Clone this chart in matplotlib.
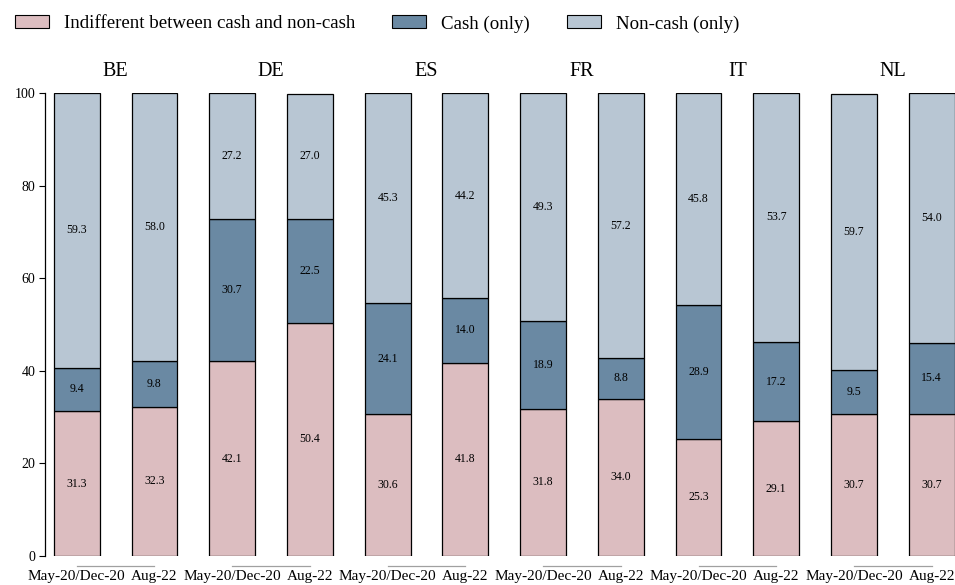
import numpy as np
import matplotlib.pyplot as plt
from matplotlib.patches import Patch

plt.rcParams['font.family'] = ['Liberation Serif', 'DejaVu Serif']

countries = ['BE', 'DE', 'ES', 'FR', 'IT', 'NL']
periods = ['May-20/Dec-20', 'Aug-22']
indifferent = [31.3, 32.3, 42.1, 50.4, 30.6, 41.8, 31.8, 34.0, 25.3, 29.1, 30.7, 30.7]
cash = [9.4, 9.8, 30.7, 22.5, 24.1, 14.0, 18.9, 8.8, 28.9, 17.2, 9.5, 15.4]
noncash = [59.3, 58.0, 27.2, 27.0, 45.3, 44.2, 49.3, 57.2, 45.8, 53.7, 59.7, 54.0]

c_ind = '#dcbdc0'
c_cash = '#6a89a3'
c_non = '#b8c6d3'

fig = plt.figure(figsize=(9.55, 5.85), dpi=100)
ax = fig.add_axes([0.047, 0.0496, 0.953, 0.791])

x = np.arange(len(indifferent))
w = 0.59
ind = np.array(indifferent)
ca = np.array(cash)
nc = np.array(noncash)

ax.bar(x, ind, w, color=c_ind, edgecolor='black', linewidth=0.9)
ax.bar(x, ca, w, bottom=ind, color=c_cash, edgecolor='black', linewidth=0.9)
ax.bar(x, nc, w, bottom=ind + ca, color=c_non, edgecolor='black', linewidth=0.9)

for i in x:
    ax.text(i, ind[i] / 2, '%.1f' % ind[i], ha='center', va='center', fontsize=8.5)
    ax.text(i, ind[i] + ca[i] / 2, '%.1f' % ca[i], ha='center', va='center', fontsize=8.5)
    ax.text(i, ind[i] + ca[i] + nc[i] / 2, '%.1f' % nc[i], ha='center', va='center', fontsize=8.5)

# country names above each pair, grey bracket lines below
for g, c in enumerate(countries):
    ax.text(2 * g + 0.5, 104.6, c, ha='center', va='center', fontsize=14.5)
    ax.plot([2 * g, 2 * g + 1], [-2.2, -2.2], color='#a0a0a0', lw=0.9, clip_on=False)

ax.set_xlim(-0.41, 11.3)
ax.set_ylim(0, 100)
ax.set_xticks(x)
ax.set_xticklabels(periods * len(countries), fontsize=11)
ax.tick_params(axis='x', length=0, pad=10)
ax.set_yticks([0, 20, 40, 60, 80, 100])
ax.tick_params(axis='y', labelsize=10, length=4, width=0.8, pad=3)

for s in ['top', 'right', 'bottom']:
    ax.spines[s].set_visible(False)
ax.spines['left'].set_linewidth(0.9)

handles = [Patch(facecolor=c_ind, edgecolor='black', lw=0.8),
           Patch(facecolor=c_cash, edgecolor='black', lw=0.8),
           Patch(facecolor=c_non, edgecolor='black', lw=0.8)]
fig.legend(handles, ['Indifferent between cash and non-cash', 'Cash (only)', 'Non-cash (only)'],
           loc='upper left', bbox_to_anchor=(-0.002, 1.003), ncol=3, frameon=False,
           fontsize=13.6, handlelength=1.8, handleheight=0.7, handletextpad=0.8,
           columnspacing=1.95)

fig.savefig('out.png', dpi=100)
